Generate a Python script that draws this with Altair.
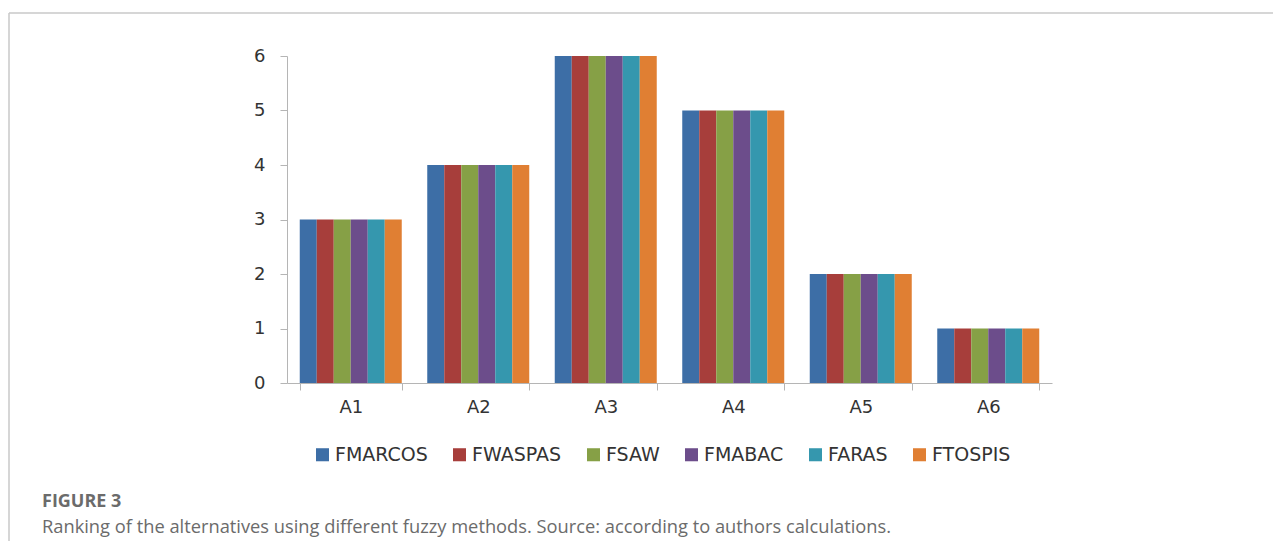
import altair as alt
import pandas as pd

categories = ["A1", "A2", "A3", "A4", "A5", "A6"]
methods = ["FMARCOS", "FWASPAS", "FSAW", "FMABAC", "FARAS", "FTOSPIS"]
rank_fmarcos = [3, 4, 6, 5, 2, 1]
rank_fwaspas = [3, 4, 6, 5, 2, 1]
rank_fsaw = [3, 4, 6, 5, 2, 1]
rank_fmabac = [3, 4, 6, 5, 2, 1]
rank_faras = [3, 4, 6, 5, 2, 1]
rank_ftospis = [3, 4, 6, 5, 2, 1]
colors = ["#3d6ea6", "#a73e3b", "#86a046", "#6c4d8b", "#3597ae", "#e07f33"]
y_ticks = [0, 1, 2, 3, 4, 5, 6]
fig_label = "FIGURE 3"
caption = "Ranking of the alternatives using different fuzzy methods. Source: according to authors calculations."

series = [rank_fmarcos, rank_fwaspas, rank_fsaw, rank_fmabac, rank_faras, rank_ftospis]
rows = []
for m, vals in zip(methods, series):
    for c, v in zip(categories, vals):
        rows.append({"alt": c, "method": m, "rank": v})
df = pd.DataFrame(rows)

FONT = "DejaVu Sans"
CAP_FONT = "Open Sans"
AX = "#b5b5b5"
TXT = "#333333"

bars = alt.Chart(df).mark_bar().encode(
    x=alt.X("alt:N", sort=categories,
            scale=alt.Scale(paddingInner=0.2, paddingOuter=0.1),
            axis=alt.Axis(title=None, labelAngle=0, tickBand="extent", tickSize=7,
                          labelPadding=8, domainColor=AX, tickColor=AX,
                          labelFont=FONT, labelFontSize=18, labelColor=TXT)),
    xOffset=alt.XOffset("method:N", sort=methods,
                        scale=alt.Scale(paddingInner=0, paddingOuter=0)),
    y=alt.Y("rank:Q", scale=alt.Scale(domain=[0, 6]),
            axis=alt.Axis(title=None, values=y_ticks, grid=False, tickSize=7,
                          labelPadding=15, domainColor=AX, tickColor=AX,
                          labelFont=FONT, labelFontSize=18, labelColor=TXT)),
    color=alt.Color("method:N", sort=methods,
                    scale=alt.Scale(domain=methods, range=colors),
                    legend=alt.Legend(title=None, orient="none", direction="horizontal",
                                      legendX=26, legendY=389, columns=6,
                                      symbolType="square", symbolSize=170,
                                      symbolStrokeWidth=0, labelOffset=3,
                                      columnPadding=22, labelFont=FONT,
                                      labelFontSize=19, labelColor=TXT)),
)

one = alt.Data(values=[{"k": 1}])

fig_text = alt.Chart(one).mark_text(
    align="left", baseline="alphabetic", font=CAP_FONT, fontSize=18,
    fontWeight="bold", color="#6b6b6b"
).encode(x=alt.value(-245), y=alt.value(451), text=alt.value(fig_label))

cap_text = alt.Chart(one).mark_text(
    align="left", baseline="alphabetic", font=CAP_FONT, fontSize=18.3,
    color="#6b6b6b"
).encode(x=alt.value(-245), y=alt.value(477), text=alt.value(caption))

border_top = alt.Chart(one).mark_rule(color="#c8c8c8", strokeWidth=1.5).encode(
    x=alt.value(-278), x2=alt.value(1000), y=alt.value(-43))
border_left = alt.Chart(one).mark_rule(color="#c8c8c8", strokeWidth=1.5).encode(
    x=alt.value(-278), y=alt.value(-43), y2=alt.value(490))

chart = alt.layer(border_top, border_left, bars, fig_text, cap_text).properties(
    width=765, height=327,
    padding={"left": 279, "top": 48, "right": 221, "bottom": 158},
    autosize=alt.AutoSizeParams(type="none"),
).configure_view(stroke=None)

chart.save("out.html", embed_options={"renderer": "svg", "actions": False})
